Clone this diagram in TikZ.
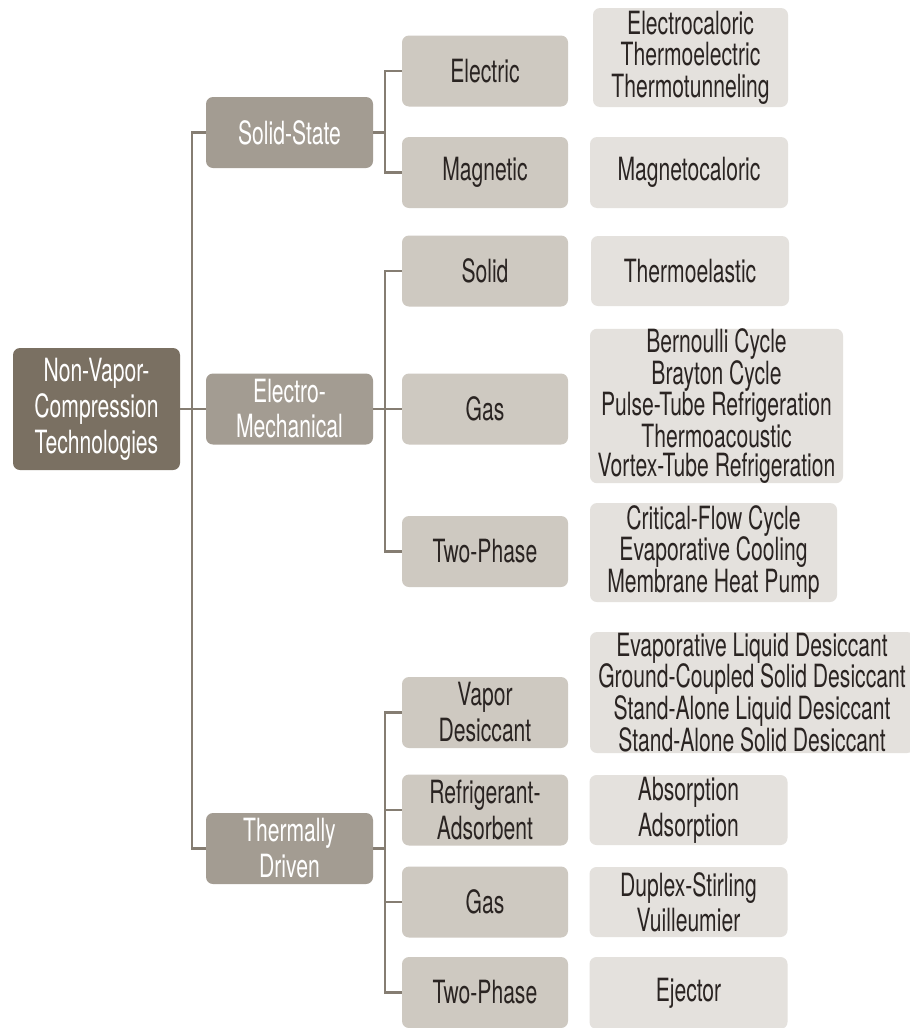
\documentclass[tikz,border=0pt]{standalone}
\usepackage{fontspec}
\setmainfont[FakeStretch=0.66]{TeX Gyre Heros}
\definecolor{rootc}{HTML}{7A7062}
\definecolor{lonec}{HTML}{A39C92}
\definecolor{ltwoc}{HTML}{CEC9C1}
\definecolor{lthreec}{HTML}{E4E1DD}
\definecolor{linec}{HTML}{857D72}
\definecolor{txtc}{HTML}{2A2422}
\begin{document}
\begin{tikzpicture}[x=1pt,y=-1pt,
  box/.style={rectangle, rounded corners=7pt, inner sep=0pt, align=center, font=\fontsize{32}{36}\selectfont},
  rootbox/.style={box, fill=rootc, text=white},
  lone/.style={box, fill=lonec, text=white, minimum width=167pt, minimum height=71pt},
  ltwo/.style={box, fill=ltwoc, text=txtc, minimum width=166pt, minimum height=71pt},
  lthree/.style={box, fill=lthreec, text=txtc},
  conn/.style={draw=linec, line width=2.2pt}]
\useasboundingbox[fill=white] (0,0) rectangle (910,1028);

% root
\node[rootbox, minimum width=167pt, minimum height=122pt] (root) at (96.5,409) {Non-Vapor-\\Compression\\Technologies};

% level 1
\node[lone] (ss) at (289.5,132.5) {Solid-State};
\node[lone] (em) at (289.5,409) {Electro-\\[-1pt]Mechanical};
\node[lone] (td) at (289.5,848.5) {Thermally\\Driven};

% level 2
\node[ltwo] (el)   at (485,71)    {Electric};
\node[ltwo] (mag)  at (485,172.5) {Magnetic};
\node[ltwo] (sol)  at (485,271)   {Solid};
\node[ltwo] (gasa) at (485,409)   {Gas};
\node[ltwo] (tpa)  at (485,551.5) {Two-Phase};
\node[ltwo] (vd)   at (485,712.5) {Vapor\\Desiccant};
\node[ltwo] (ra)   at (485,810)   {Refrigerant-\\Adsorbent};
\node[ltwo] (gasb) at (485,902)   {Gas};
\node[ltwo] (tpb)  at (485,992.5) {Two-Phase};

% level 3
\node[lthree, minimum width=195pt, minimum height=99pt, font=\fontsize{32}{31.5}\selectfont] (t1) at (690.5,57.5)
  {Electrocaloric\\Thermoelectric\\Thermotunneling};
\node[lthree, minimum width=198pt, minimum height=71pt] (t2) at (689,172.5) {Magnetocaloric};
\node[lthree, minimum width=198pt, minimum height=70pt] (t3) at (690,271) {Thermoelastic};
\node[lthree, minimum width=253pt, minimum height=146pt, font=\fontsize{32}{29}\selectfont] (t4) at (716.5,406)
  {Bernoulli Cycle\\Brayton Cycle\\Pulse-Tube Refrigeration\\Thermoacoustic\\Vortex-Tube Refrigeration};
\node[lthree, minimum width=247pt, minimum height=99pt, font=\fontsize{32}{31.5}\selectfont] (t5) at (713.5,552.5)
  {Critical-Flow Cycle\\Evaporative Cooling\\Membrane Heat Pump};
\node[lthree, minimum width=324pt, minimum height=121pt, font=\fontsize{32}{28}\selectfont] (t6) at (752,692.5)
  {Evaporative Liquid Desiccant\\Ground-Coupled Solid Desiccant\\Stand-Alone Liquid Desiccant\\Stand-Alone Solid Desiccant};
\node[lthree, minimum width=198pt, minimum height=70pt] (t7) at (688.5,810) {Absorption\\Adsorption};
\node[lthree, minimum width=198pt, minimum height=70pt, font=\fontsize{32}{35}\selectfont] (t8) at (688.5,902) {Duplex-Stirling\\Vuilleumier};
\node[lthree, minimum width=198pt, minimum height=72pt] (t9) at (688.5,993) {Ejector};

% connectors level 1
\draw[conn] (root.east) -- (em.west);
\draw[conn] (ss.west) -- ++(-14,0) |- (td.west);

% connectors level 2
\draw[conn] (ss.east) -- ++(12,0);
\draw[conn] (el.west) -- ++(-17,0) |- (mag.west);

\draw[conn] (em.east) -- (em.east -| gasa.west);
\draw[conn] (sol.west) -- ++(-17,0) |- (tpa.west);

\draw[conn] (td.east) -- ++(12,0);
\draw[conn] (vd.west) -- ++(-17,0) |- (tpb.west);
\draw[conn] (ra.west) -- ++(-17,0);
\draw[conn] (gasb.west) -- ++(-17,0);
\end{tikzpicture}
\end{document}
